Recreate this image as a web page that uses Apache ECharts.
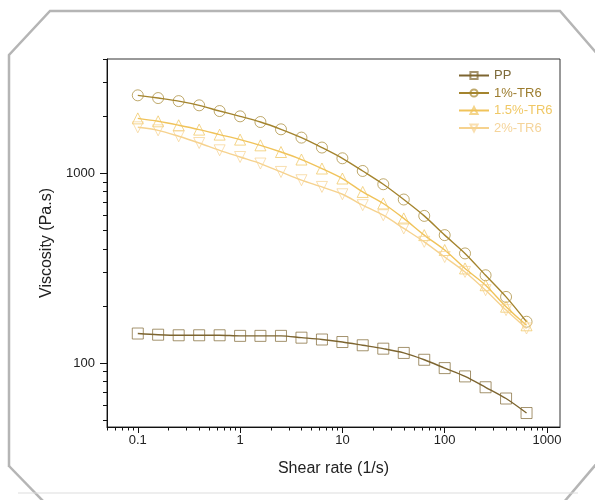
<!DOCTYPE html>
<html>
<head>
<meta charset="utf-8">
<script src="https://cdn.jsdelivr.net/npm/echarts@6/dist/echarts.min.js"></script>
<style>
html,body{margin:0;padding:0;background:#fff;}
#chart{width:595px;height:500px;}
</style>
</head>
<body>
<div id="chart"></div>
<script>
// ---- data ----
const shearRate = [0.1, 0.158, 0.251, 0.398, 0.631, 1, 1.58, 2.51, 3.98, 6.31, 10, 15.8, 25.1, 39.8, 63.1, 100, 158, 251, 398, 631];
const seriesNames = ['PP', '1%-TR6', '1.5%-TR6', '2%-TR6'];
const pp   = [143, 141, 140, 140, 140, 139, 139, 139, 136, 133, 129, 124, 119, 113, 104, 94, 85, 74.5, 65, 54.5];
const tr1  = [2574, 2490, 2400, 2280, 2127, 1995, 1862, 1704, 1541, 1366, 1199, 1028, 875, 727, 596, 472, 378, 290, 223, 165];
const tr15 = [1946, 1878, 1790, 1698, 1598, 1504, 1403, 1294, 1181, 1059, 938, 797, 693, 578, 472, 394, 315, 257, 198, 158];
const tr2  = [1746, 1683, 1566, 1443, 1321, 1218, 1125, 1016, 919, 847, 775, 679, 601, 512, 435, 362, 302, 242, 190, 152];
const xMajorTicks = [0.1, 1, 10, 100, 1000];
const yMajorTicks = [100, 1000];
const xLabels = ['0.1', '1', '10', '100', '1000'];
const yLabels = ['100', '1000'];
const xRange = [0.05, 1340];
const yRange = [46, 4000];

// ---- helpers ----
const lg = Math.log10;
function minorTicks(lo, hi) {
  const out = [];
  for (let e = Math.floor(lg(lo)); e <= Math.ceil(lg(hi)); e++) {
    for (let m = 2; m <= 9; m++) {
      const v = m * Math.pow(10, e);
      if (v >= lo * 0.999 && v <= hi * 1.001) out.push(lg(v));
    }
  }
  return out;
}
function labelFor(vals, labels) {
  return function (v) {
    for (let i = 0; i < vals.length; i++) if (Math.abs(lg(vals[i]) - v) < 1e-6) return labels[i];
    return '';
  };
}
const FONT = '"Liberation Sans", Arial, sans-serif';
const colors = ['#7d6530', '#a4842e', '#f0c35a', '#f6d28e'];
const textColors = ['#7d6a3a', '#9c7c2e', '#f0c865', '#f5d49a'];
const symbols = ['rect', 'circle', 'triangle', 'triangle'];
const rotates = [0, 0, 0, 180];
const datasets = [pp, tr1, tr15, tr2];

const series = datasets.map((d, i) => ({
  name: seriesNames[i],
  type: 'line',
  xAxisIndex: 0,
  yAxisIndex: 0,
  smooth: 0.3,
  data: d.map((v, j) => [lg(shearRate[j]), lg(v)]),
  symbol: symbols[i],
  symbolRotate: rotates[i],
  symbolSize: 11,
  showAllSymbol: true,
  lineStyle: { color: colors[i], width: 1.4 },
  itemStyle: { color: 'rgba(255,255,255,0)', borderColor: colors[i], borderWidth: 1, opacity: 0.7 },
  emphasis: { disabled: true },
  z: 3 + i
}));

const chart = echarts.init(document.getElementById('chart'), null, { renderer: 'canvas' });
chart.setOption({
  animation: false,
  backgroundColor: '#fff',
  grid: {
    left: 107, top: 59, width: 453, height: 368,
    show: true, borderColor: '#333', borderWidth: 1, backgroundColor: 'transparent'
  },
  legend: {
    orient: 'vertical',
    left: 453, top: 64,
    itemWidth: 30, itemHeight: 9, itemGap: 4.5,
    textStyle: { fontFamily: FONT, fontSize: 13 },
    data: seriesNames.map((n, i) => ({ name: n, textStyle: { color: textColors[i] } }))
  },
  xAxis: [
    {
      type: 'value', position: 'bottom',
      min: lg(xRange[0]), max: lg(xRange[1]),
      name: 'Shear rate (1/s)', nameLocation: 'middle', nameGap: 34,
      nameTextStyle: { fontFamily: FONT, fontSize: 16, color: '#222' },
      axisLine: { show: true, onZero: false, lineStyle: { color: '#111', width: 1 } },
      axisTick: { show: true, inside: false, length: 6, lineStyle: { color: '#111' }, customValues: xMajorTicks.map(lg) },
      axisLabel: { show: true, margin: 7, fontFamily: FONT, fontSize: 13, color: '#222', customValues: xMajorTicks.map(lg), formatter: labelFor(xMajorTicks, xLabels) },
      splitLine: { show: false }
    },
    {
      type: 'value', position: 'bottom',
      min: lg(xRange[0]), max: lg(xRange[1]),
      axisLine: { show: false, onZero: false },
      axisTick: { show: true, inside: false, length: 3.5, lineStyle: { color: '#111' }, customValues: minorTicks(xRange[0], xRange[1]) },
      axisLabel: { show: false },
      splitLine: { show: false }
    }
  ],
  yAxis: [
    {
      type: 'value', position: 'left',
      min: lg(yRange[0]), max: lg(yRange[1]),
      name: 'Viscosity (Pa.s)', nameLocation: 'middle', nameGap: 52,
      nameTextStyle: { fontFamily: FONT, fontSize: 16, color: '#222' },
      axisLine: { show: true, onZero: false, lineStyle: { color: '#111', width: 1 } },
      axisTick: { show: true, inside: false, length: 7, lineStyle: { color: '#111' }, customValues: yMajorTicks.map(lg) },
      axisLabel: { show: true, margin: 12, fontFamily: FONT, fontSize: 13, color: '#222', customValues: yMajorTicks.map(lg), formatter: labelFor(yMajorTicks, yLabels) },
      splitLine: { show: false }
    },
    {
      type: 'value', position: 'left',
      min: lg(yRange[0]), max: lg(yRange[1]),
      axisLine: { show: false, onZero: false },
      axisTick: { show: true, inside: false, length: 4, lineStyle: { color: '#111' }, customValues: minorTicks(yRange[0], yRange[1]) },
      axisLabel: { show: false },
      splitLine: { show: false }
    }
  ],
  graphic: [
    { type: 'polyline', shape: { points: [[9, 467], [9, 55], [50, 11], [560, 11], [599, 56]] }, style: { stroke: '#b5b5b5', lineWidth: 2.5, fill: null }, silent: true },
    { type: 'polyline', shape: { points: [[9, 466], [44, 502]] }, style: { stroke: '#b5b5b5', lineWidth: 2.5, fill: null }, silent: true },
    { type: 'polyline', shape: { points: [[598, 462], [564, 502]] }, style: { stroke: '#b5b5b5', lineWidth: 2.5, fill: null }, silent: true },
    { type: 'line', shape: { x1: 18, y1: 493, x2: 578, y2: 493 }, style: { stroke: '#dddddd', lineWidth: 1 }, silent: true }
  ],
  series: series
});
</script>
</body>
</html>
